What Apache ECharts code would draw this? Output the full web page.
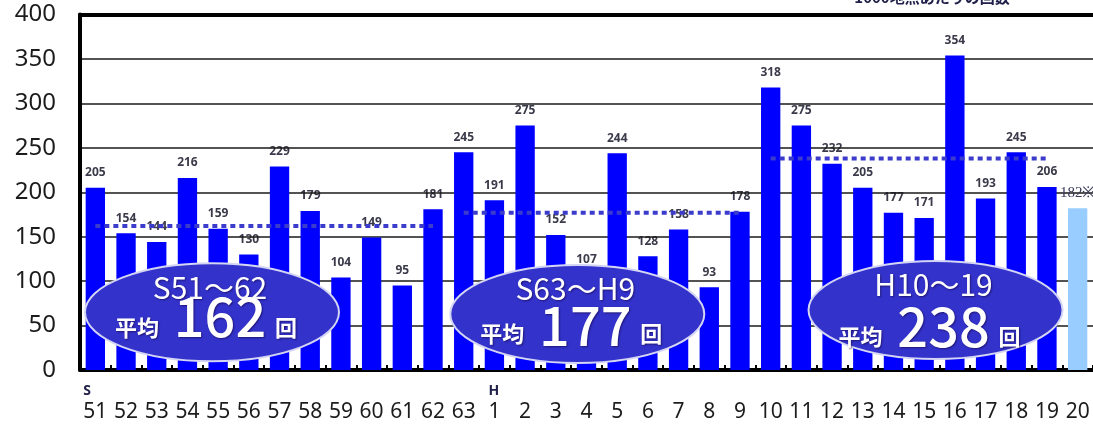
<!DOCTYPE html>
<html>
<head>
<meta charset="utf-8">
<script src="https://cdn.jsdelivr.net/npm/echarts@6/dist/echarts.min.js"></script>
<style>
  html, body { margin: 0; padding: 0; background: #fff; }
  #chart { width: 1093px; height: 424px; }
</style>
</head>
<body>
<div id="chart"></div>
<script>
// Yearly counts per 1000 observation points, Showa 51 through Heisei 20
const years = ['S51', '52', '53', '54', '55', '56', '57', '58', '59', '60', '61', '62', '63',
  'H1', '2', '3', '4', '5', '6', '7', '8', '9', '10', '11', '12', '13', '14', '15', '16', '17', '18', '19', '20'];
const counts = [205, 154, 144, 216, 159, 130, 229, 179, 104, 149, 95, 181, 245,
  191, 275, 152, 107, 244, 128, 158, 93, 178, 318, 275, 232, 205, 177, 171, 354, 193, 245, 206, 182];

// Provisional year (drawn lighter, flagged with ※)
const provisionalYear = '20';
const provisionalMark = '※';

// Period averages
const periodNames = ['S51～62', 'S63～H9', 'H10～19'];
const periodFrom = ['S51', '63', '10'];
const periodTo = ['62', '9', '19'];
const periodAvg = [162, 177, 238];

// Value axis ticks
const yMin = 0, yMax = 400, yStep = 50;

const topNote = '1000地点あたりの回数';

// ---- styling / layout ----
const BAR_BLUE = '#0000ff';
const BAR_LIGHT = '#99ccff';
const BADGE_FILL = '#3333cc';
const AVG_LINE = '#3b3bcc';
const TEXT_DARK = '#1c1c1c';

// badge anchors: [category index (fractional), value], plus text shifts
const badgeAnchor = [[3.8, 65], [15.7, 63], [27.37, 67.5]];
const badgeNumDy = [4, 11, 16];
const badgeUnitDy = [15, 20, 27];

const chart = echarts.init(document.getElementById('chart'), null, { renderer: 'canvas' });

const lastIdx = years.indexOf(provisionalYear);

const avgSeries = periodAvg.map((v, i) => ({
  type: 'line',
  name: periodNames[i],
  data: [[periodFrom[i], v], [periodTo[i], v]],
  symbol: 'none',
  silent: true,
  z: 4,
  lineStyle: { color: AVG_LINE, width: 4, type: [5, 4], cap: 'butt' }
}));

chart.setOption({
  animation: false,
  backgroundColor: '#ffffff',
  grid: { left: 80, right: 0, top: 14.5, bottom: 54, containLabel: false },
  xAxis: [{
    type: 'category',
    data: years,
    position: 'bottom',
    axisLine: { show: true, lineStyle: { color: '#000', width: 4 } },
    axisTick: { show: true, inside: true, length: 5, lineStyle: { color: '#000', width: 2 } },
    axisLabel: {
      interval: 0,
      margin: 13,
      formatter: v => {
        const m = v.match(/^([A-Z])(\d+)$/);
        return m ? `{p|${m[1]}}\n{n|${m[2]}}` : `{p| }\n{n|${v}}`;
      },
      rich: {
        p: { fontSize: 14, fontWeight: 'bold', lineHeight: 17, align: 'left', color: '#22224a', fontFamily: 'Noto Sans' },
        n: { fontSize: 21, lineHeight: 24, color: TEXT_DARK, fontFamily: 'Noto Sans' }
      }
    },
    splitLine: { show: false }
  }, {
    type: 'category',
    data: years,
    position: 'top',
    axisLine: { show: true, lineStyle: { color: '#000', width: 4 } },
    axisTick: { show: false },
    axisLabel: { show: false }
  }],
  yAxis: {
    type: 'value',
    min: yMin, max: yMax, interval: yStep,
    axisLine: { show: true, lineStyle: { color: '#000', width: 4 } },
    axisTick: { show: false },
    axisLabel: { fontSize: 24, color: TEXT_DARK, fontFamily: 'Noto Sans', margin: 24 },
    splitLine: { show: true, lineStyle: { color: '#1a1a1a', width: 1.5 } }
  },
  series: [{
    // value labels, layered beneath the grid lines
    type: 'bar',
    data: counts,
    barWidth: '63%',
    silent: true,
    z: -1,
    itemStyle: { color: 'rgba(0,0,0,0)' },
    label: {
      show: true,
      position: 'top',
      distance: 9,
      fontSize: 12,
      fontWeight: 'bold',
      fontFamily: 'Noto Sans',
      color: '#3a3a4a',
      formatter: p => p.dataIndex === lastIdx ? '' : String(p.value)
    }
  }, {
    type: 'bar',
    data: counts,
    barWidth: '63%',
    barGap: '-100%',
    z: 2,
    itemStyle: { color: p => p.dataIndex === lastIdx ? BAR_LIGHT : BAR_BLUE },
    label: {
      show: true,
      position: 'top',
      distance: 8,
      fontSize: 15,
      fontFamily: 'Liberation Serif',
      color: '#3a3a5a',
      formatter: p => p.dataIndex === lastIdx ? p.value + provisionalMark : ''
    }
  }, ...avgSeries]
});

function toPx(idx, val) {
  const i0 = Math.floor(idx), f = idx - i0;
  const a = chart.convertToPixel({ xAxisIndex: 0, yAxisIndex: 0 }, [i0, val]);
  const b = chart.convertToPixel({ xAxisIndex: 0, yAxisIndex: 0 }, [i0 + 1, val]);
  return [a[0] + (b[0] - a[0]) * f, a[1]];
}

const whiteText = (x, y, text, size, weight) => ({
  type: 'text',
  x, y,
  z: 21,
  style: {
    text,
    fill: '#ffffff',
    font: `${weight} ${size}px "Noto Sans CJK JP", "Noto Sans", sans-serif`,
    align: 'center',
    verticalAlign: 'middle',
    textShadowColor: 'rgba(20,0,60,0.6)',
    textShadowBlur: 2,
    textShadowOffsetX: 1,
    textShadowOffsetY: 1
  }
});

const graphics = [];
badgeAnchor.forEach((anc, i) => {
  const [cx, cy] = toPx(anc[0], anc[1]);
  graphics.push({
    type: 'ellipse',
    shape: { cx, cy, rx: 127, ry: 49 },
    z: 20,
    style: { fill: BADGE_FILL, stroke: '#d4d4f4', lineWidth: 2 }
  });
  graphics.push(whiteText(cx - 2, cy - 25, periodNames[i], 30, 'normal'));
  graphics.push(whiteText(cx - 75, cy + badgeUnitDy[i], '平均', 22, 'bold'));
  graphics.push(whiteText(cx + 8, cy + badgeNumDy[i], String(periodAvg[i]), 54, '500'));
  graphics.push(whiteText(cx + 74, cy + badgeUnitDy[i], '回', 22, 'bold'));
});

graphics.push({
  type: 'text',
  x: 932, y: -3,
  z: 21,
  style: {
    text: topNote,
    fill: '#20204a',
    font: 'bold 15px "Noto Sans CJK JP", sans-serif',
    align: 'center',
    verticalAlign: 'middle'
  }
});

chart.setOption({ graphic: graphics });
</script>
</body>
</html>
